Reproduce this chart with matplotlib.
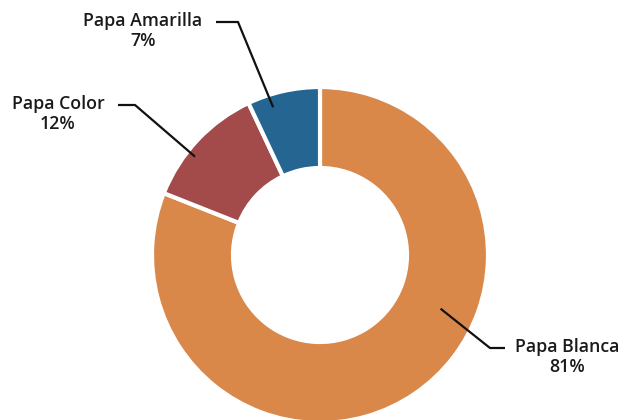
import numpy as np
import matplotlib.pyplot as plt

labels = ["Papa Blanca", "Papa Color", "Papa Amarilla"]
shares = [81, 12, 7]
colors = ["#D9884A", "#A24B4A", "#246591"]

# label placement: (anchor angle offset from slice middle, anchor radius, elbow xy, line end xy, text centre x)
label_style = {
    "Papa Blanca": dict(ang=31.8, r=132, elbow=(490, 72), end=(505, 72), tx=567),
    "Papa Color": dict(ang=5.0, r=159, elbow=(135, 315), end=(118, 315), tx=58),
    "Papa Amarilla": dict(ang=5.0, r=155, elbow=(238, 398), end=(216, 398), tx=143),
}

fig = plt.figure(figsize=(6.26, 4.20), dpi=100)
ax = fig.add_axes([0, 0, 1, 1])

center = (320, 165)
radius = 168
wedges, _ = ax.pie(shares, colors=colors, startangle=90, counterclock=False,
                   radius=radius, center=center, frame=True,
                   wedgeprops=dict(width=81, edgecolor="white", linewidth=3))
ax.set_xlim(0, 626)
ax.set_ylim(0, 420)
ax.set_aspect("equal")
ax.axis("off")

for w, lab, val in zip(wedges, labels, shares):
    st = label_style[lab]
    mid = (w.theta1 + w.theta2) / 2 + st["ang"]
    px = center[0] + st["r"] * np.cos(np.radians(mid))
    py = center[1] + st["r"] * np.sin(np.radians(mid))
    ex, ey = st["elbow"]
    hx, hy = st["end"]
    ax.plot([px, ex, hx], [py, ey, hy], color="#111111", lw=1.6, solid_capstyle="butt")
    ax.text(st["tx"], hy + 1, lab, ha="center", va="center", fontsize=12.8,
            fontweight="semibold", color="#1a1a1a", family=["Open Sans", "DejaVu Sans"])
    ax.text(st["tx"], hy - 19, f"{val}%", ha="center", va="center", fontsize=12.8,
            fontweight="semibold", color="#1a1a1a", family=["Open Sans", "DejaVu Sans"])

fig.savefig("out.png", dpi=100)
